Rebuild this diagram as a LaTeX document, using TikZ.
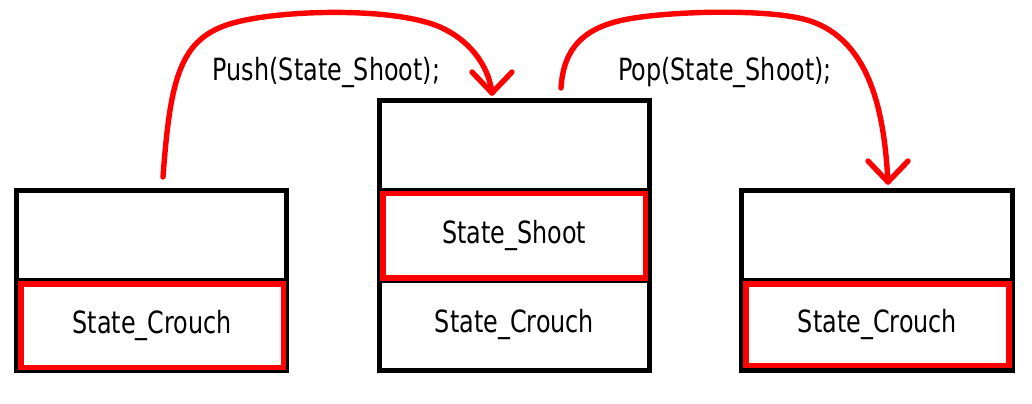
\documentclass[tikz,border=0pt]{standalone}
\usepackage{fontspec}
\setmainfont{DejaVu Sans}[FakeStretch=0.78]
\newcommand\lblfont{\fontsize{15.3pt}{18pt}\selectfont}
\begin{document}
\begin{tikzpicture}[x=0.5pt,y=-0.5pt,
  cell/.style={draw=black,line width=2.6pt,minimum width=135pt,minimum height=45pt,inner sep=0pt},
  txt/.style={text height=0.73em,text depth=0pt,font=\lblfont,text=black},
  hl/.style={draw=red,line width=2.9pt,inner sep=0pt,txt},
  cmd/.style={inner sep=0pt,font=\lblfont,text=black},
  flow/.style={draw=red,line width=2.7pt,line cap=round,line join=round}]
\useasboundingbox (0,0) rectangle (1032,403);
\fill[white] (0,0) rectangle (1032,403);
% left stack
\node[cell] (Lt) at (151.5,235.5) {};
\node[cell] (Lb) at (151.5,325.5) {};
\node[hl,minimum width=131.25pt,minimum height=41.75pt] (Lh) at (152.25,325.75) {State\_Crouch};
% middle stack
\node[cell] (Mt) at (514.5,145.5) {};
\node[cell] (Mm) at (514.5,235.5) {};
\node[cell,txt] (Mb) at (514.5,325.5) {State\_Crouch};
\node[hl,minimum width=131.25pt,minimum height=42.25pt] (Mh) at (514.25,235.75) {State\_Shoot};
% right stack
\node[cell,minimum width=135.5pt] (Rt) at (877,235.5) {};
\node[cell,minimum width=135.5pt] (Rb) at (877,325.5) {};
\node[hl,minimum width=131.5pt,minimum height=40.75pt] (Rh) at (877.5,324.75) {State\_Crouch};
% labels
\node[cmd,anchor=base] (push) at (326.5,80) {Push(State\_Shoot);};
\node[cmd,anchor=base] (pop) at (725,80) {Pop(State\_Shoot);};
% push arrow
\coordinate (ps) at (163,177);
\coordinate (pe) at (492,93);
\draw[flow] (ps) .. controls (170.4,77) and (180,37.9) .. (233,23)
  .. controls (281.2,9.5) and (394.3,6.9) .. (440,27)
  .. controls (467.5,39.1) and (488.3,63.2) .. (pe);
\draw[flow] ([shift={(-20,-21)}]pe) -- (pe) -- ([shift={(20,-21)}]pe);
% pop arrow
\coordinate (qs) at (561,88);
\coordinate (qe) at (888,182);
\draw[flow] (qs) .. controls (563.4,48) and (583.9,28.4) .. (623,20)
  .. controls (664.1,11.2) and (766.7,8.1) .. (807,20)
  .. controls (874.1,39.8) and (884.6,122.1) .. (qe);
\draw[flow] ([shift={(-20,-21)}]qe) -- (qe) -- ([shift={(20,-21)}]qe);
\end{tikzpicture}
\end{document}
